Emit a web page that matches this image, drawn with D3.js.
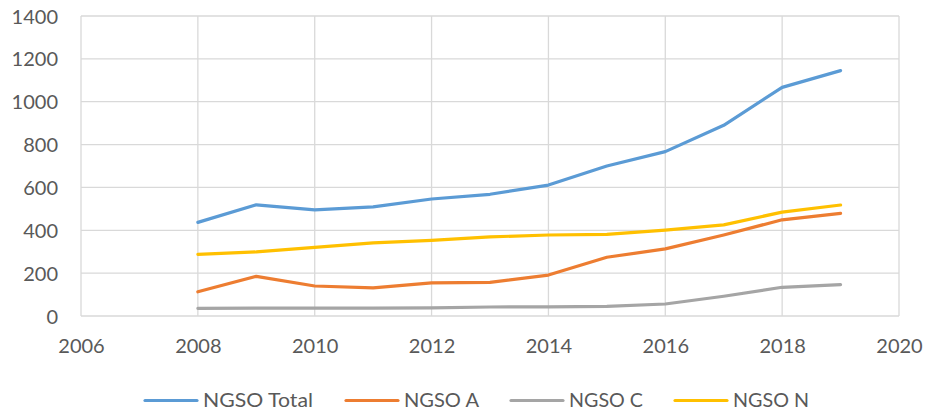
<!DOCTYPE html>
<html><head><meta charset="utf-8">
<script src="https://cdn.jsdelivr.net/npm/d3@7"></script>
<style>body{margin:0;background:#fff}svg{display:block}text{font-family:Lato,"Open Sans",sans-serif;fill:#595959}</style>
</head><body>
<svg id="c" width="929" height="418"></svg>
<script>
const years = [2008,2009,2010,2011,2012,2013,2014,2015,2016,2017,2018,2019];
const ngsoTotal = [437,519,495,509,546,568,611,700,767,890,1067,1145];
const ngsoA = [113,185,140,131,155,157,191,274,313,378,449,479];
const ngsoC = [36,37,37,37,38,42,43,45,56,92,134,146];
const ngsoN = [288,299,320,341,353,369,378,381,401,425,485,518];
const seriesNames = ["NGSO Total","NGSO A","NGSO C","NGSO N"];
const seriesColors = ["#5B9BD5","#ED7D31","#A5A5A5","#FFC000"];
const xTicks = [2006,2008,2010,2012,2014,2016,2018,2020];
const yTicks = [0,200,400,600,800,1000,1200,1400];

const series = [ngsoTotal, ngsoA, ngsoC, ngsoN];
const svg = d3.select("#c");
const L=81,R=899,T=16,B=316;
const x = d3.scaleLinear().domain([2006,2020]).range([L,R]);
const y = d3.scaleLinear().domain([0,1400]).range([B,T]);

const g = svg.append("g");
g.selectAll(".hg").data(yTicks).join("line")
  .attr("x1",L).attr("x2",R).attr("y1",d=>y(d)).attr("y2",d=>y(d))
  .attr("stroke","#d9d9d9").attr("stroke-width",1.3);
g.selectAll(".vg").data(xTicks).join("line")
  .attr("y1",T).attr("y2",B).attr("x1",d=>x(d)).attr("x2",d=>x(d))
  .attr("stroke","#d9d9d9").attr("stroke-width",1.3);

const yAxis = d3.axisLeft(y).tickValues(yTicks).tickSize(0).tickPadding(0).tickFormat(d3.format("d"));
const ya = svg.append("g").attr("transform",`translate(${L-23},0)`).call(yAxis);
ya.select(".domain").remove();
ya.selectAll("text").attr("font-size",20).attr("dy","0.35em").style("fill","#595959");

const xAxis = d3.axisBottom(x).tickValues(xTicks).tickSize(0).tickPadding(0).tickFormat(d3.format("d"));
const xa = svg.append("g").attr("transform",`translate(0,${B+30})`).call(xAxis);
xa.select(".domain").remove();
xa.selectAll("text").attr("font-size",20).attr("dy","0.35em").style("fill","#595959");

const line = d3.line().x((d,i)=>x(years[i])).y(d=>y(d));
series.forEach((s,k)=>{
  svg.append("path").datum(s).attr("d",line).attr("fill","none")
    .attr("stroke",seriesColors[k]).attr("stroke-width",3.2)
    .attr("stroke-linejoin","round").attr("stroke-linecap","round");
});

const legX = [145,346,511,675];
const legW = [110,75,74,76];
const leg = svg.append("g");
seriesNames.forEach((n,k)=>{
  leg.append("line").attr("x1",legX[k]).attr("x2",legX[k]+52).attr("y1",400.5).attr("y2",400.5)
    .attr("stroke",seriesColors[k]).attr("stroke-width",3.2).attr("stroke-linecap","round");
  leg.append("text").attr("x",legX[k]+58).attr("y",400).attr("dy","0.35em")
    .attr("font-size",20).attr("textLength",legW[k]).attr("lengthAdjust","spacingAndGlyphs").text(n);
});
</script>
</body></html>
